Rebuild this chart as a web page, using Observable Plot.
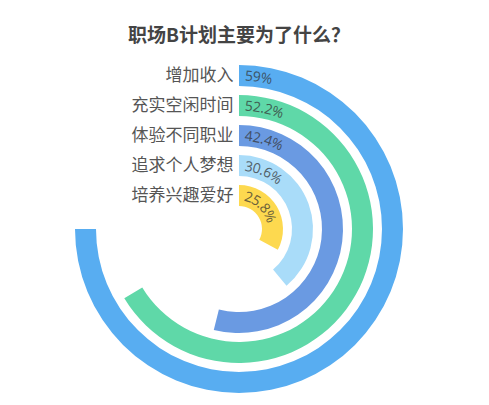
<!DOCTYPE html>
<html><head><meta charset="utf-8">
<script src="https://cdn.jsdelivr.net/npm/d3@7"></script>
<script src="https://cdn.jsdelivr.net/npm/@observablehq/plot@0.6"></script>
<style>
body{margin:0;background:#fff;}
#chart svg{display:block;}
</style>
</head><body><div id="chart"></div>
<script>
// ---- data ----
const title = "职场B计划主要为了什么？";
const categories = ["增加收入", "充实空闲时间", "体验不同职业", "追求个人梦想", "培养兴趣爱好"];
const values = [59, 52.2, 42.4, 30.6, 25.8];
const valueLabels = ["59%", "52.2%", "42.4%", "30.6%", "25.8%"];
const colors = ["#58adf1", "#5fd8a8", "#6a9ae2", "#a9dcf9", "#fdd94f"];

const data = categories.map((name, i) => ({name, value: values[i], label: valueLabels[i]}));

// ---- layout ----
const W = 489, H = 405;
const cx = 239, cy = 229;
const FONT = "'Noto Sans CJK SC', 'Noto Sans', sans-serif";

function ringRender(index, scales, vals, dimensions, context) {
  const g = d3.create("svg:g");
  const sy = scales.y;
  let bw = (sy && typeof sy.bandwidth === "function") ? sy.bandwidth() : (sy && sy.bandwidth);
  if (bw == null && scales.scales && scales.scales.y) bw = scales.scales.y.bandwidth;
  const arc = d3.arc();
  for (const i of index) {
    const rOuter = cy - vals.y[i];
    const rInner = rOuter - bw;
    const a0 = vals.x1[i], a1 = vals.x2[i];
    g.append("path")
      .attr("transform", `translate(${cx},${cy})`)
      .attr("d", arc({innerRadius: rInner, outerRadius: rOuter, startAngle: a0, endAngle: a1}))
      .attr("fill", vals.fill ? vals.fill[i] : colors[i]);
    // text path along ring middle
    const rm = (rOuter + rInner) / 2;
    const ex = cx + rm * Math.sin(a1), ey = cy - rm * Math.cos(a1);
    const large = (a1 - a0) > Math.PI ? 1 : 0;
    const id = "ringpath" + i;
    g.append("path")
      .attr("id", id)
      .attr("fill", "none")
      .attr("stroke", "none")
      .attr("d", `M${cx},${cy - rm}A${rm},${rm} 0 ${large} 1 ${ex},${ey}`);
    g.append("text")
      .attr("font-family", "'Noto Sans', sans-serif")
      .attr("font-size", 14)
      .attr("text-anchor", "start")
      .attr("fill", "#333")
      .attr("fill-opacity", 0.72)
      .attr("dy", "0.36em")
      .append("textPath")
      .attr("href", "#" + id)
      .attr("startOffset", 6)
      .text(data[i].label);
  }
  return g.node();
}

const chart = Plot.plot({
  width: W,
  height: H,
  margin: 0,
  style: {fontFamily: FONT, background: "#fff"},
  x: {domain: [0, d3.max(values)], range: [0, 1.5 * Math.PI], axis: null},
  y: {type: "band", domain: categories, range: [63, 209], paddingInner: 0.29, paddingOuter: 0, axis: null},
  color: {domain: categories, range: colors},
  marks: [
    Plot.barX(data, {x: "value", y: "name", fill: "name", render: ringRender}),
    Plot.text(data, {
      y: "name", text: "name", frameAnchor: "left", dx: 233,
      textAnchor: "end", fontSize: 17, fill: "#555", fontFamily: FONT
    }),
    Plot.text([title], {
      text: d => d, frameAnchor: "top", lineAnchor: "middle", dx: -6, dy: 35,
      fontSize: 19, fontWeight: "bold", fill: "#444", fontFamily: FONT
    })
  ]
});
document.getElementById("chart").appendChild(chart);
</script>
</body></html>
